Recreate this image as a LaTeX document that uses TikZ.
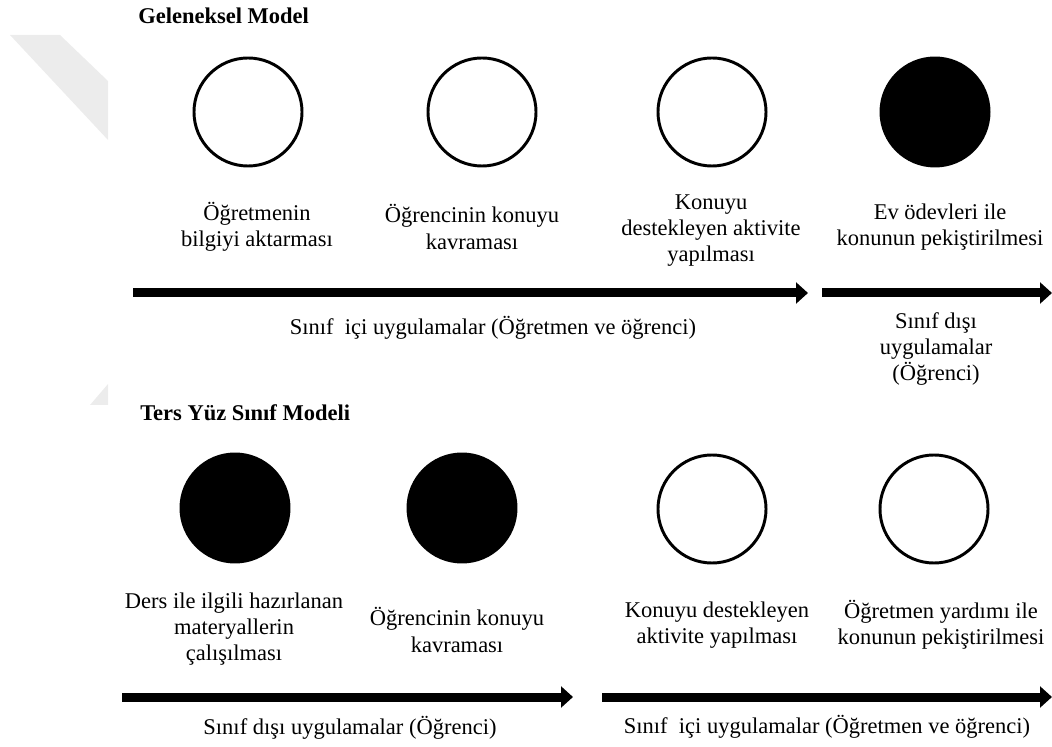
\documentclass[tikz,border=0pt]{standalone}
\usepackage{fontspec}
\setmainfont{Liberation Serif}
\usepackage{tikz}
\usetikzlibrary{arrows.meta,positioning}
\definecolor{wmGray}{HTML}{ECECEC}

\begin{document}
\begin{tikzpicture}[x=0.025cm,y=-0.025cm,
  font=\fontsize{16}{18.5}\selectfont,
  openc/.style={circle,draw,line width=2.1pt,minimum size=2.7cm,inner sep=0pt},
  fullc/.style={openc,fill=black},
  lbl/.style={align=center,inner sep=0pt},
  flow/.style={line width=0.225cm,-{Triangle[length=0.3cm,width=0.52cm]}}]
\useasboundingbox (0,0) rectangle (1052,747);
% faint watermark band
\fill[wmGray] (10,35) -- (60,35) -- (108,81) -- (108,140) -- cycle;
\fill[wmGray] (90,405) -- (108,384) -- (108,405) -- cycle;

% Geleneksel Model
\node[anchor=west,inner sep=0pt,font=\fontsize{16}{18.5}\selectfont\bfseries] (geTitle) at (138,16) {Geleneksel Model};
\foreach \x/\nm in {248/g1,482/g2,712/g3}
  \node[openc] (\nm) at (\x,112) {};
\node[fullc] (g4) at (935,112) {};
\node[lbl] (gt1) at (257,227) {Öğretmenin\\bilgiyi aktarması};
\node[lbl] (gt2) at (472,227) {Öğrencinin konuyu\\kavraması};
\node[lbl] (gt3) at (711,231) {Konuyu\\destekleyen aktivite\\yapılması};
\node[lbl] (gt4) at (940,227) {Ev ödevleri ile\\konunun pekiştirilmesi};
\coordinate (ga1s) at (133,293);
\coordinate (ga1e) at (808,293);
\coordinate (ga2s) at (822,293);
\coordinate (ga2e) at (1052,293);
\draw[flow] (ga1s) -- (ga1e);
\draw[flow] (ga2s) -- (ga2e);
\node[lbl] (gs1) at (493,328) {Sınıf~\ içi uygulamalar (Öğretmen ve öğrenci)};
\node[lbl] (gs2) at (936,349) {Sınıf dışı\\uygulamalar\\(Öğrenci)};

% Ters Yuz Sinif Modeli
\node[anchor=west,inner sep=0pt,font=\fontsize{16}{18.5}\selectfont\bfseries] (tyTitle) at (140,413) {Ters Yüz Sınıf Modeli};
\node[fullc] (t1) at (235,508) {};
\node[fullc] (t2) at (462,508) {};
\node[openc] (t3) at (712,509) {};
\node[openc] (t4) at (934,509) {};
\node[lbl] (tt1) at (234,629) {Ders ile ilgili hazırlanan\\materyallerin\\çalışılması};
\node[lbl] (tt2) at (457,630) {Öğrencinin konuyu\\kavraması};
\node[lbl] (tt3) at (717,625) {Konuyu destekleyen\\aktivite yapılması};
\node[lbl] (tt4) at (941,625) {Öğretmen yardımı ile\\konunun pekiştirilmesi};
\coordinate (ta1s) at (122,697);
\coordinate (ta1e) at (573,697);
\coordinate (ta2s) at (602,697);
\coordinate (ta2e) at (1052,697);
\draw[flow] (ta1s) -- (ta1e);
\draw[flow] (ta2s) -- (ta2e);
\node[lbl] (ts1) at (350,728) {Sınıf dışı uygulamalar (Öğrenci)};
\node[lbl] (ts2) at (827,727) {Sınıf~\ içi uygulamalar (Öğretmen ve öğrenci)};
\end{tikzpicture}
\end{document}
